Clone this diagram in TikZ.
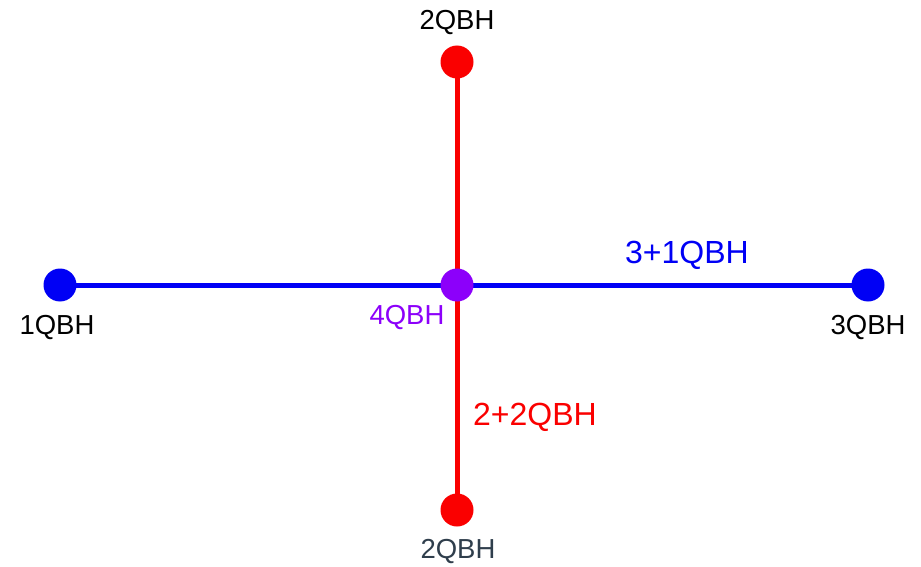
\documentclass[tikz,border=0pt]{standalone}
\usepackage{fontspec}
\setmainfont{Liberation Sans}
\definecolor{qblue}{RGB}{0,0,245}
\definecolor{qred}{RGB}{250,0,0}
\definecolor{qpurple}{RGB}{140,0,250}
\definecolor{qslate}{RGB}{47,62,76}
\begin{document}
\begin{tikzpicture}[x=1pt,y=-1pt,
  dot/.style={circle,fill=#1,minimum size=33pt,inner sep=0pt},
  lbl/.style={font=\fontsize{27.5}{30}\selectfont,inner sep=0pt},
  elbl/.style={font=\fontsize{32}{36}\selectfont,inner sep=0pt},
  link/.style={line width=5pt,draw=#1}]
\useasboundingbox (0,0) rectangle (921,567);
% main crossing
\draw[link=qred] (457,62) -- (457,510);
\draw[link=qblue] (60,285) -- (868,285);
\node[dot=qblue] (l) at (60,285) {};
\node[dot=qblue] (r) at (868,285) {};
\node[dot=qred] (t) at (457,62) {};
\node[dot=qred] (b) at (457,510) {};
\node[dot=qpurple] (c) at (457,285) {};
% labels
\node[lbl] (tl) at (457,22) {2QBH};
\node[lbl] (ll) at (57,327) {1QBH};
\node[lbl] (rl) at (868,327) {3QBH};
\node[lbl,text=qpurple] (cl) at (407,317) {4QBH};
\node[lbl,text=qslate] (bl) at (458,551) {2QBH};
\node[elbl,text=qblue] (e1) at (687,255) {3+1QBH};
\node[elbl,text=qred] (e2) at (535,417) {2+2QBH};
\end{tikzpicture}
\end{document}
